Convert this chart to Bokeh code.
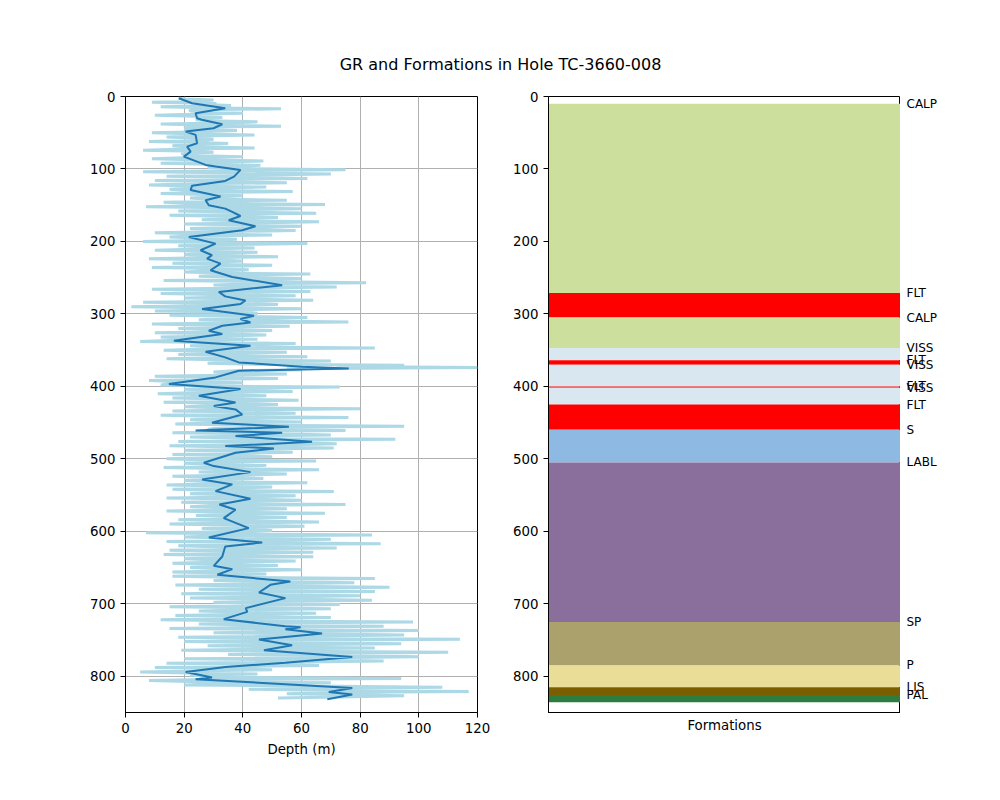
from bokeh.plotting import figure
from bokeh.models import Range1d, FixedTicker, Label, ColumnDataSource
from bokeh.layouts import column, row
from bokeh.core.properties import value
from bokeh.embed import file_html
from bokeh.resources import INLINE

TITLE = "GR and Formations in Hole TC-3660-008"
FONT = "DejaVu Sans"

# ---- raw gamma-ray log: main samples every 3 m from 2 m ----
raw_top = 2.0
raw_step = 1.5
raw_gr_main = [
    18, 30, 9, 27, 12, 53, 22, 40, 10, 33,
    24, 45, 12, 53, 20, 38, 9, 44, 14, 30,
    8, 35, 16, 44, 6, 30, 20, 40, 9, 47,
    12, 46, 28, 75, 6, 70, 14, 62, 10, 55,
    8, 48, 15, 57, 12, 40, 22, 55, 13, 68,
    7, 60, 18, 65, 15, 52, 26, 66, 20, 60,
    22, 58, 10, 50, 15, 38, 6, 62, 18, 44,
    10, 45, 20, 52, 8, 40, 16, 50, 9, 42,
    20, 63, 25, 60, 13, 82, 30, 72, 9, 63,
    12, 58, 20, 64, 6, 52, 2, 60, 10, 45,
    15, 62, 25, 76, 9, 56, 18, 50, 10, 48,
    12, 45, 5, 58, 22, 85, 13, 55, 18, 62,
    14, 70, 28, 95, 120, 60, 30, 55, 10, 52,
    8, 40, 12, 73, 20, 57, 11, 48, 16, 59,
    13, 52, 20, 80, 16, 58, 12, 76, 22, 60,
    17, 95, 30, 75, 16, 70, 22, 92, 18, 72,
    15, 71, 20, 57, 16, 50, 14, 65, 20, 48,
    13, 66, 25, 55, 16, 47, 20, 62, 14, 50,
    16, 71, 22, 58, 14, 60, 19, 75, 22, 55,
    14, 68, 24, 55, 18, 66, 15, 61, 26, 50,
    7, 84, 20, 70, 14, 87, 18, 72, 15, 64,
    13, 64, 20, 58, 16, 52, 22, 60, 16, 48,
    16, 85, 30, 78, 17, 90, 25, 85, 19, 80,
    22, 84, 30, 73, 15, 70, 25, 65, 17, 70,
    12, 98, 25, 88, 15, 100, 30, 95, 18, 114,
    20, 94, 28, 85, 19, 110, 35, 100, 20, 88,
    14, 66, 10, 50, 5, 45, 30, 94, 8, 70,
    20, 108, 42, 117, 55, 95, 52,
]
# in-between samples (1.5 m after each main sample)
raw_gr_between = [
    20, 25, 31, 36, 27, 22, 26, 23, 27, 25,
    28, 34, 29, 21, 24, 26, 22, 25, 23, 27,
    25, 20, 23, 21, 24, 19, 22, 20, 26, 29,
    28, 33, 40, 37, 41, 36, 38, 32, 31, 24,
    22, 25, 20, 27, 31, 33, 28, 30, 26, 29,
    33, 36, 38, 40, 35, 37, 39, 42, 45, 41,
    38, 31, 24, 23, 27, 29, 32, 28, 26, 25,
    27, 29, 30, 26, 31, 33, 30, 28, 31, 29,
    32, 35, 40, 46, 51, 45, 40, 35, 30, 33,
    34, 37, 42, 38, 40, 32, 27, 31, 39, 44,
    41, 38, 43, 36, 32, 29, 27, 30, 32, 34,
    22, 17, 28, 41, 36, 29, 27, 31, 33, 32,
    36, 38, 45, 72, 55, 37, 34, 33, 29, 25,
    19, 15, 29, 37, 33, 25, 28, 31, 34, 36,
    38, 32, 31, 36, 40, 37, 34, 32, 30, 31,
    44, 52, 28, 34, 51, 44, 39, 47, 56, 58,
    37, 46, 41, 36, 33, 30, 28, 26, 29, 31,
    35, 39, 40, 35, 29, 26, 29, 32, 33, 36,
    32, 30, 35, 39, 41, 43, 37, 33, 34, 37,
    36, 35, 34, 33, 36, 38, 40, 41, 43, 39,
    33, 29, 36, 45, 41, 35, 33, 35, 34, 32,
    34, 32, 31, 33, 30, 29, 33, 36, 33, 31,
    36, 45, 55, 50, 48, 49, 46, 45, 49, 52,
    53, 51, 47, 44, 43, 40, 42, 40, 37, 34,
    35, 41, 48, 53, 57, 56, 61, 64, 54, 46,
    49, 56, 52, 47, 57, 69, 74, 68, 61, 55,
    48, 41, 34, 27, 21, 22, 28, 27, 25, 36,
    62, 76, 72, 70, 76, 73,
]
raw_gr = []
for i, g in enumerate(raw_gr_main):
    raw_gr.append(g)
    if i < len(raw_gr_between):
        raw_gr.append(raw_gr_between[i])
raw_depth = [raw_top + i * raw_step for i in range(len(raw_gr))]

# ---- smoothed gamma-ray curve ----
smooth_depth = [
    2.4, 9.3, 16.2, 23.1, 30, 32, 38.3, 43.8, 48.4, 53, 64.5, 69.1, 76, 83,
    94.4, 96.7, 101.3, 110.5, 116.5, 123, 129, 138, 143.2, 150.1, 154.7,
    159.3, 164.9, 170.8, 179.1, 184.6, 193.8, 203, 212.2, 219.1, 223.7,
    230.6, 239.8, 249, 260.5, 269.8, 275.8, 281.4, 286.3, 293.3, 302.5,
    307.1, 311.7, 316.3, 323.2, 327.8, 337, 343.9, 352.2, 360, 366.9,
    372.9, 375.2, 378.4, 387.6, 396.8, 403.7, 412.9, 422.1, 427.2, 431.8,
    438.7, 450.2, 455.7, 460.8, 464, 468.6, 476.4, 482.4, 485.6, 491.6,
    505.4, 510, 518.3, 528.4, 535.3, 544.5, 555.1, 563, 570.3, 581.8,
    595.6, 608.5, 615.4, 620.9, 634.7, 647.6, 652.2, 660, 669.2, 673.8,
    684.4, 692.2, 706, 711.1, 721.2, 731, 732.5, 735, 741.1, 749.4, 757.2,
    764.1, 773.3, 781.2, 787.1, 794, 801.8, 804.1, 816.1, 821.6, 825.3,
    831.7,
]
smooth_gr = [
    18.2, 22.7, 34, 23.9, 24.4, 26, 33, 30, 20.5, 23.9, 24.4, 21, 22.2, 19.9,
    27.3, 30.7, 39.2, 37, 34, 22.7, 22.2, 32.4, 27.3, 28.4, 34,
    36.4, 39.2, 35.2, 44.3, 39.8, 21.6, 30.7, 25.6, 29.5, 27.8,
    32.4, 29, 36.4, 53.4, 31.8, 34, 40.9, 39.2, 26.1, 43.8,
    39.2, 42.6, 33, 28.4, 33, 16.5, 42.6, 27.3, 34, 38.6,
    60.2, 76.1, 38.6, 30.7, 14.8, 39.2, 25, 37.5, 30.1, 37.5,
    39.8, 29.5, 55.7, 23.9, 53.4, 37.5, 63.6, 34, 50.6, 37.5,
    26.7, 30.1, 42.6, 26.1, 36.4, 30.7, 42.6, 32, 37.5, 33.5,
    42, 28.4, 46.6, 34, 33, 30.1, 36.4, 31.3, 56.2, 49.4,
    45.5, 54.5, 41, 41.5, 33.5, 54.5, 59.7, 54.5, 67, 45.5, 56.8,
    47.2, 77.3, 54.5, 34.1, 20.5, 29.5, 23.9, 77.3, 69.3, 77.3,
    68.8,
]

# ---- formations ----
form_names = ["CALP", "FLT", "CALP", "VISS", "FLT", "VISS", "FLT", "VISS",
              "FLT", "S", "LABL", "SP", "P", "LIS", "PAL"]
form_tops = [10, 271, 305, 347, 364, 370, 400, 402, 425, 460, 505, 725, 785, 815, 826]
form_bottoms = [271, 305, 347, 364, 370, 400, 402, 425, 460, 505, 725, 785, 815, 826, 836]
form_colors = ["#cddf9c", "#ff0000", "#cddf9c", "#d9e8f0", "#ff0000", "#d9e8f0",
               "#ff0000", "#d9e8f0", "#ff0000", "#8db9e2", "#8a6f9d", "#aaa16d",
               "#eadd98", "#7b5e00", "#2e7d40"]

x_ticks = [0, 20, 40, 60, 80, 100, 120]
y_ticks = [0, 100, 200, 300, 400, 500, 600, 700, 800]


def style_axes(p):
    for ax in p.axis:
        ax.axis_line_color = "black"
        ax.major_tick_line_color = "black"
        ax.major_tick_in = 0
        ax.major_tick_out = 5
        ax.minor_tick_line_color = None
        ax.major_label_text_color = "black"
        ax.major_label_text_font = FONT
        ax.major_label_text_font_size = "13.33px"
        ax.major_label_standoff = 5
        ax.axis_label_text_font = FONT
        ax.axis_label_text_font_size = "13.33px"
        ax.axis_label_text_font_style = "normal"
        ax.axis_label_text_color = "black"
    p.outline_line_color = "black"
    p.outline_line_alpha = 1
    p.outline_line_width = 1


# title strip
pt = figure(frame_width=984, frame_height=86, min_border=0,
            x_range=Range1d(0, 984), y_range=Range1d(0, 86),
            x_axis_type=None, y_axis_type=None,
            toolbar_location=None, output_backend="svg")
pt.outline_line_color = None
pt.add_layout(Label(x=500, y=22, text=TITLE, text_align="center",
                    text_baseline="middle", text_font=FONT,
                    text_font_size="16px", text_color="black"))

# left: GR log
p1 = figure(frame_width=352, frame_height=616,
            min_border_left=125, min_border_right=21,
            min_border_top=10, min_border_bottom=60,
            x_range=Range1d(0, 120), y_range=Range1d(850, 0),
            toolbar_location=None, output_backend="svg")
p1.line(raw_gr, raw_depth, line_color="#add8e6", line_width=3)
p1.line(smooth_gr, smooth_depth, line_color="#1f77b4", line_width=2)
p1.xaxis.ticker = FixedTicker(ticks=x_ticks)
p1.yaxis.ticker = FixedTicker(ticks=y_ticks)
p1.xaxis.axis_label = "Depth (m)"
p1.grid.grid_line_color = "#b0b0b0"
p1.grid.grid_line_width = 1
style_axes(p1)
p1.xaxis.axis_label_standoff = 6

# right: formations
src = ColumnDataSource(dict(
    name=form_names, top=form_tops, bottom=form_bottoms, color=form_colors,
    left=[0.0] * len(form_names), right=[1.0] * len(form_names),
))
p2 = figure(frame_width=352, frame_height=616,
            min_border_left=50, min_border_right=0,
            min_border_top=10, min_border_bottom=60,
            x_range=Range1d(0, 1), y_range=p1.y_range,
            toolbar_location=None, output_backend="svg")
p2.quad(left="left", right="right", top="top", bottom="bottom",
        fill_color="color", line_color=None, source=src)
p2.xaxis.ticker = FixedTicker(ticks=[])
p2.xaxis.axis_label = "Formations"
p2.yaxis.ticker = FixedTicker(ticks=y_ticks)
p2.grid.visible = False
style_axes(p2)
p2.xaxis.major_tick_out = 0
p2.xaxis.axis_label_standoff = 5

# formation names, just right of the formations panel
p3 = figure(frame_width=80, frame_height=616,
            min_border_left=0, min_border_right=0,
            min_border_top=10, min_border_bottom=60,
            x_range=Range1d(0, 80), y_range=p1.y_range,
            x_axis_type=None, y_axis_type=None,
            toolbar_location=None, output_backend="svg")
p3.outline_line_color = None
p3.grid.visible = False
p3.text(x=0, y="top", text="name", source=src, x_offset=6,
        text_baseline="middle", text_align="left",
        text_font=value(FONT), text_font_size="12px", text_color="black")

layout = column(pt, row(p1, p2, p3))
open("out.html", "w").write(file_html(layout, INLINE))
